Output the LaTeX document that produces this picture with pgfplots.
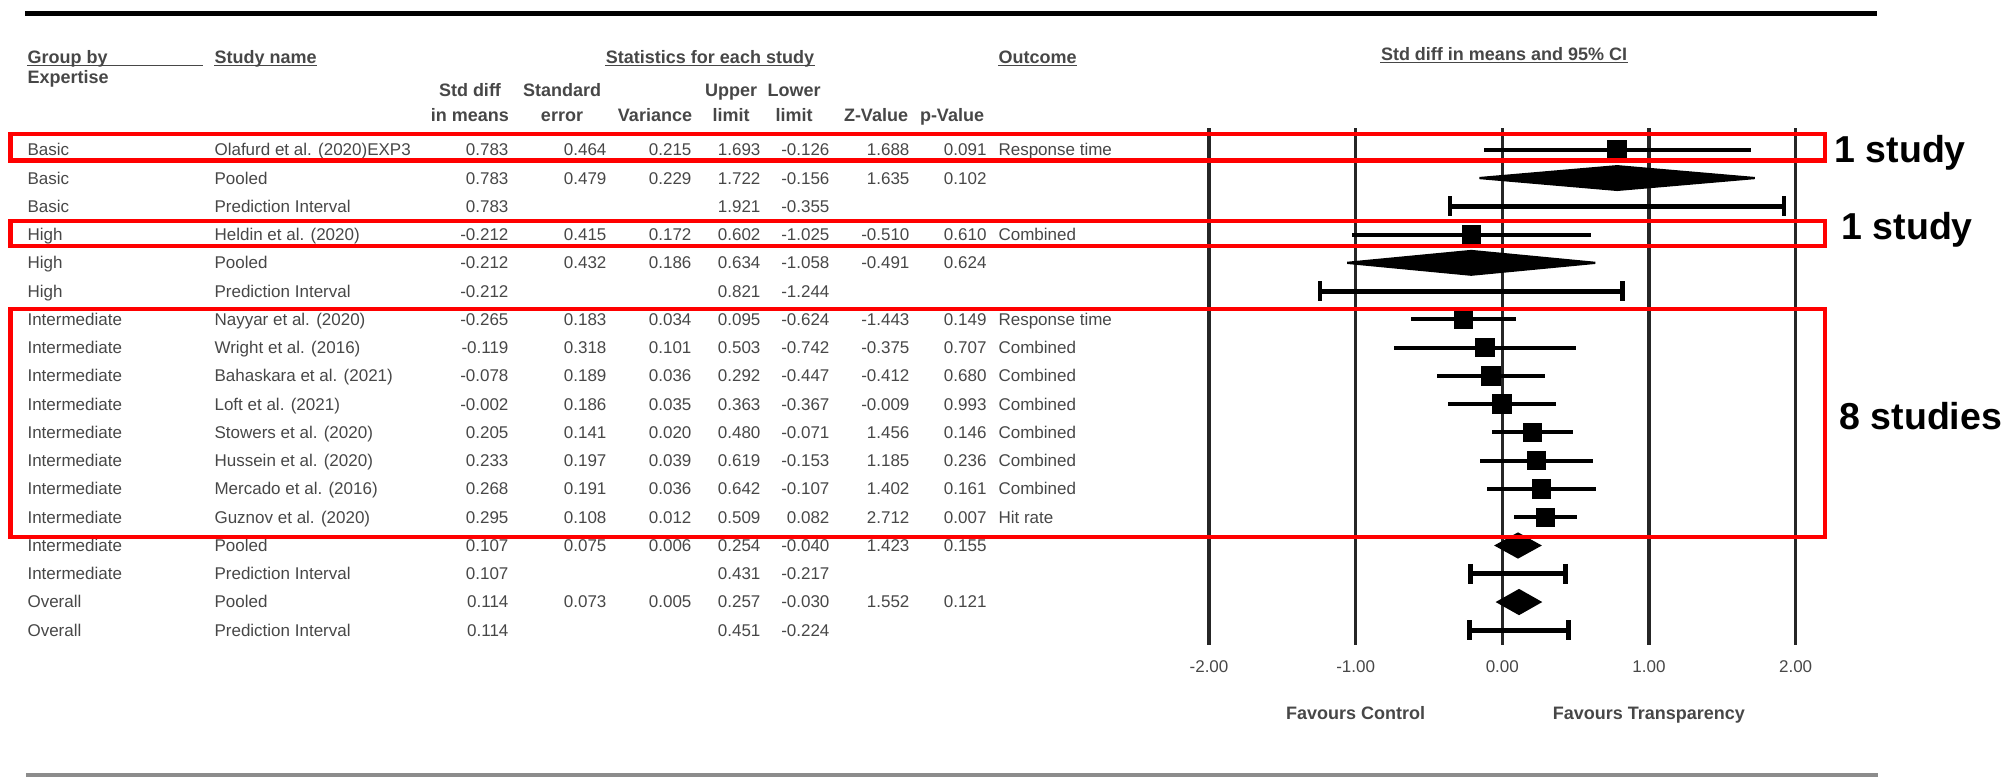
\documentclass[border=0pt]{standalone}
\usepackage{fontspec}
\setmainfont{Liberation Sans}
\usepackage{pgfplots}
\usepackage{pgfplotstable}
\pgfplotsset{compat=1.18}

% one drawing unit = one pixel of a 2014 x 778 canvas (0.36pt), y downward
\newcommand\tabfont{\fontsize{6.12pt}{7.2pt}\selectfont}
\newcommand\hdrfont{\fontsize{6.48pt}{7.6pt}\selectfont\bfseries}
\newcommand\notefont{\fontsize{13.5pt}{16pt}\selectfont\bfseries}
\colorlet{txt}{black!72}

% study rows: centre of row i at 149.8 + (i-1)*28.26, baseline 6 units lower
\newcommand\rowtext[4]{%
  \node[cell, anchor=base west] at (27,{155.8+(#1-1)*28.26}) {#2};
  \node[cell, anchor=base west] at (214,{155.8+(#1-1)*28.26}) {#3};
  \node[cell, anchor=base west] at (998,{155.8+(#1-1)*28.26}) {#4};}
\newcommand\rowstats[8]{%
  \node[cell, anchor=base east] at (509,{155.8+(#1-1)*28.26}) {#2};
  \node[cell, anchor=base east] at (607,{155.8+(#1-1)*28.26}) {#3};
  \node[cell, anchor=base east] at (692,{155.8+(#1-1)*28.26}) {#4};
  \node[cell, anchor=base east] at (761,{155.8+(#1-1)*28.26}) {#5};
  \node[cell, anchor=base east] at (830,{155.8+(#1-1)*28.26}) {#6};
  \node[cell, anchor=base east] at (910,{155.8+(#1-1)*28.26}) {#7};
  \node[cell, anchor=base east] at (987,{155.8+(#1-1)*28.26}) {#8};}

% individual studies: y counts rows from the bottom of the plot
\pgfplotstableread{
y  est    lo     hi
18  0.783 -0.126 1.693
15 -0.212 -1.025 0.602
12 -0.265 -0.624 0.095
11 -0.119 -0.742 0.503
10 -0.078 -0.447 0.292
9  -0.002 -0.367 0.363
8   0.205 -0.071 0.480
7   0.233 -0.153 0.619
6   0.268 -0.107 0.642
5   0.295  0.082 0.509
}\studies

\begin{document}
\begin{tikzpicture}[x=0.36pt, y=-0.36pt,
  cell/.style={inner sep=0pt, font=\tabfont, text=txt},
  hdr/.style={inner sep=0pt, font=\hdrfont, text=txt},
  ul/.style={line width=0.55pt, draw=txt},
  note/.style={inner sep=0pt, font=\notefont, text=black, anchor=base west},
  redbox/.style={draw=red, line width=1.6pt}]
\useasboundingbox (0,0) rectangle (2014,778);

% rules above and below the table
\draw[line width=1.9pt, black] (25,13.5) -- (1877,13.5);
\draw[line width=1.1pt, black!45] (26,775) -- (1878,775);

% header block
\node[hdr, anchor=base west] at (27,63.5) {Group by};
\draw[ul] (27,65.5) -- (203,65.5);
\node[hdr, anchor=base west] at (27,83.4) {Expertise};
\node[hdr, anchor=base west] (hs) at (214,63.5) {Study name};
\draw[ul] ([yshift=-0.7pt]hs.base west) -- ([yshift=-0.7pt]hs.base east);
\node[hdr, anchor=base] (hst) at (710,63.5) {Statistics for each study};
\draw[ul] ([yshift=-0.7pt]hst.base west) -- ([yshift=-0.7pt]hst.base east);
\node[hdr, anchor=base west] (ho) at (998,63.5) {Outcome};
\draw[ul] ([yshift=-0.7pt]ho.base west) -- ([yshift=-0.7pt]ho.base east);
\node[hdr, anchor=base] (hf) at (1504,60.5) {Std diff in means and 95\% CI};
\draw[ul] ([yshift=-0.7pt]hf.base west) -- ([yshift=-0.7pt]hf.base east);

\node[hdr, anchor=base] at (470,96.4) {Std diff};
\node[hdr, anchor=base] at (470,121.4) {in means};
\node[hdr, anchor=base] at (562,96.4) {Standard};
\node[hdr, anchor=base] at (562,121.4) {error};
\node[hdr, anchor=base] at (655,121.4) {Variance};
\node[hdr, anchor=base] at (731,96.4) {Upper};
\node[hdr, anchor=base] at (731,121.4) {limit};
\node[hdr, anchor=base] at (794,96.4) {Lower};
\node[hdr, anchor=base] at (794,121.4) {limit};
\node[hdr, anchor=base] at (876,121.4) {Z-Value};
\node[hdr, anchor=base] at (952,121.4) {p-Value};

% table body
\rowtext{1}{Basic}{Olafurd et al. (2020)EXP3}{Response time}
\rowstats{1}{0.783}{0.464}{0.215}{1.693}{-0.126}{1.688}{0.091}
\rowtext{2}{Basic}{Pooled}{}
\rowstats{2}{0.783}{0.479}{0.229}{1.722}{-0.156}{1.635}{0.102}
\rowtext{3}{Basic}{Prediction Interval}{}
\rowstats{3}{0.783}{}{}{1.921}{-0.355}{}{}
\rowtext{4}{High}{Heldin et al. (2020)}{Combined}
\rowstats{4}{-0.212}{0.415}{0.172}{0.602}{-1.025}{-0.510}{0.610}
\rowtext{5}{High}{Pooled}{}
\rowstats{5}{-0.212}{0.432}{0.186}{0.634}{-1.058}{-0.491}{0.624}
\rowtext{6}{High}{Prediction Interval}{}
\rowstats{6}{-0.212}{}{}{0.821}{-1.244}{}{}
\rowtext{7}{Intermediate}{Nayyar et al. (2020)}{Response time}
\rowstats{7}{-0.265}{0.183}{0.034}{0.095}{-0.624}{-1.443}{0.149}
\rowtext{8}{Intermediate}{Wright et al. (2016)}{Combined}
\rowstats{8}{-0.119}{0.318}{0.101}{0.503}{-0.742}{-0.375}{0.707}
\rowtext{9}{Intermediate}{Bahaskara et al. (2021)}{Combined}
\rowstats{9}{-0.078}{0.189}{0.036}{0.292}{-0.447}{-0.412}{0.680}
\rowtext{10}{Intermediate}{Loft et al. (2021)}{Combined}
\rowstats{10}{-0.002}{0.186}{0.035}{0.363}{-0.367}{-0.009}{0.993}
\rowtext{11}{Intermediate}{Stowers et al. (2020)}{Combined}
\rowstats{11}{0.205}{0.141}{0.020}{0.480}{-0.071}{1.456}{0.146}
\rowtext{12}{Intermediate}{Hussein et al. (2020)}{Combined}
\rowstats{12}{0.233}{0.197}{0.039}{0.619}{-0.153}{1.185}{0.236}
\rowtext{13}{Intermediate}{Mercado et al. (2016)}{Combined}
\rowstats{13}{0.268}{0.191}{0.036}{0.642}{-0.107}{1.402}{0.161}
\rowtext{14}{Intermediate}{Guznov et al. (2020)}{Hit rate}
\rowstats{14}{0.295}{0.108}{0.012}{0.509}{0.082}{2.712}{0.007}
\rowtext{15}{Intermediate}{Pooled}{}
\rowstats{15}{0.107}{0.075}{0.006}{0.254}{-0.040}{1.423}{0.155}
\rowtext{16}{Intermediate}{Prediction Interval}{}
\rowstats{16}{0.107}{}{}{0.431}{-0.217}{}{}
\rowtext{17}{Overall}{Pooled}{}
\rowstats{17}{0.114}{0.073}{0.005}{0.257}{-0.030}{1.552}{0.121}
\rowtext{18}{Overall}{Prediction Interval}{}
\rowstats{18}{0.114}{}{}{0.451}{-0.224}{}{}

% forest plot
\begin{axis}[
  at={(435.24pt,-232.2pt)}, anchor=south west,
  scale only axis, width=211.18pt, height=186.12pt,
  xmin=-2, xmax=2, ymin=0.48, ymax=18.771,
  axis line style={draw=none},
  xtick={-2,-1,0,1,2},
  xticklabels={-2.00,-1.00,0.00,1.00,2.00},
  ytick=\empty,
  major tick length=0pt,
  xmajorgrids,
  grid style={black!85, line width=1.2pt},
  xticklabel style={font=\tabfont, text=txt, anchor=center, yshift=-7.9pt},
  clip=false,
]
% studies: box at the estimate, whiskers to the 95% limits
\addplot[only marks, mark=square*, mark size=3.3pt, black,
  error bars/.cd, x dir=both, x explicit,
  error bar style={line width=1.4pt, black}, error mark=none]
  table[x=est, y=y,
        x error minus expr=\thisrow{est}-\thisrow{lo},
        x error plus expr=\thisrow{hi}-\thisrow{est}] {\studies};

% pooled estimates
\addplot[fill=black, draw=black, line width=0.8pt]
  coordinates {(-0.156,17) (0.783,17.42) (1.722,17) (0.783,16.58)} -- cycle;
\addplot[fill=black, draw=black, line width=0.8pt]
  coordinates {(-1.058,14) (-0.212,14.42) (0.634,14) (-0.212,13.58)} -- cycle;
\addplot[fill=black, draw=black, line width=0.8pt]
  coordinates {(-0.040,4) (0.107,4.42) (0.254,4) (0.107,3.58)} -- cycle;
\addplot[fill=black, draw=black, line width=0.8pt]
  coordinates {(-0.030,2) (0.114,2.42) (0.257,2) (0.114,1.58)} -- cycle;

% prediction intervals
\addplot[black, line width=1.8pt, mark=|, mark size=3.6pt, mark options={line width=1.6pt}]
  coordinates {(-0.355,16) (1.921,16)};
\addplot[black, line width=1.8pt, mark=|, mark size=3.6pt, mark options={line width=1.6pt}]
  coordinates {(-1.244,13) (0.821,13)};
\addplot[black, line width=1.8pt, mark=|, mark size=3.6pt, mark options={line width=1.6pt}]
  coordinates {(-0.217,3) (0.431,3)};
\addplot[black, line width=1.8pt, mark=|, mark size=3.6pt, mark options={line width=1.6pt}]
  coordinates {(-0.224,1) (0.451,1)};

\node[font=\hdrfont, text=txt, anchor=base, inner sep=0pt] at (axis cs:-1,-2.156) {Favours Control};
\node[font=\hdrfont, text=txt, anchor=base, inner sep=0pt] at (axis cs:1,-2.156) {Favours Transparency};
\end{axis}

% highlighted groups
\draw[redbox] (10.5,134) rectangle (1825,160.5);
\draw[redbox] (10.5,221) rectangle (1825,246);
\draw[redbox] (10.5,309) rectangle (1825,537);
\node[note] at (1834,163) {1 study};
\node[note] at (1841,240) {1 study};
\node[note] at (1839,430) {8 studies};
\end{tikzpicture}
\end{document}
